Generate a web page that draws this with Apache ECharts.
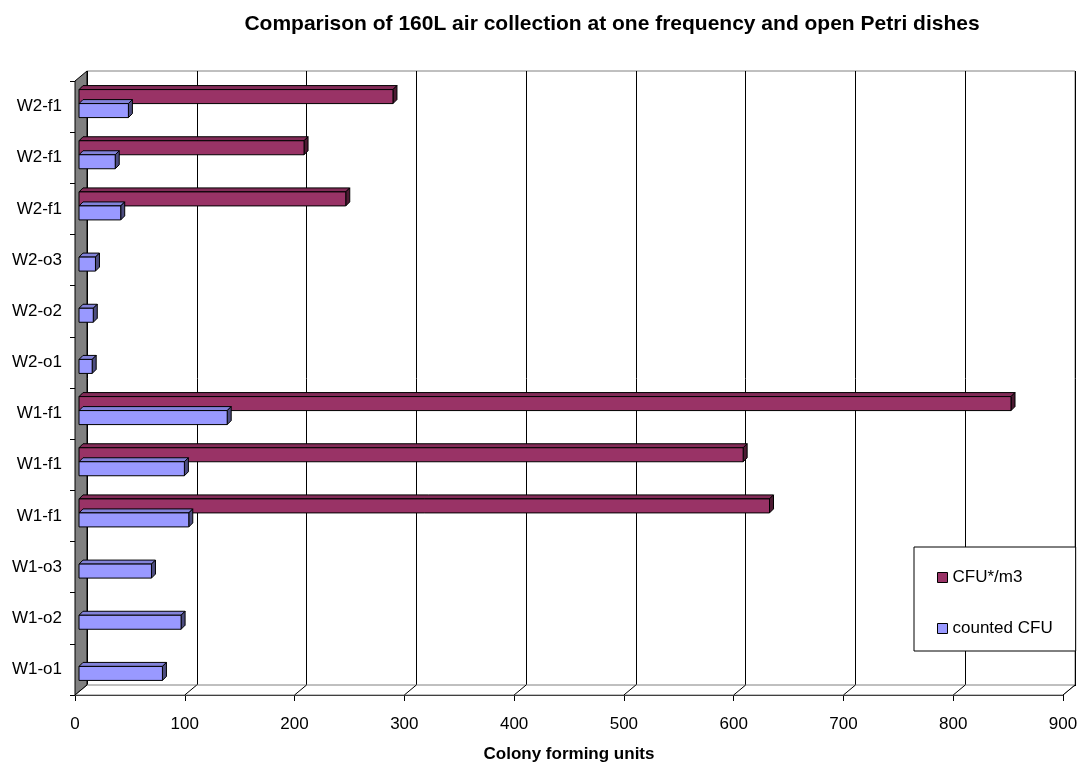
<!DOCTYPE html>
<html>
<head>
<meta charset="utf-8">
<script src="https://cdn.jsdelivr.net/npm/echarts@6/dist/echarts.min.js"></script>
<style>
html, body { margin: 0; padding: 0; background: #fff; }
#main { width: 1077px; height: 762px; }
</style>
</head>
<body>
<div id="main"></div>
<script>
// categories from bottom to top
var categories = ['W1-o1', 'W1-o2', 'W1-o3', 'W1-f1', 'W1-f1', 'W1-f1', 'W2-o1', 'W2-o2', 'W2-o3', 'W2-f1', 'W2-f1', 'W2-f1'];
var countedCFU = [76, 93, 66, 100, 96, 135, 12, 13, 15, 38, 33, 45];
var cfuPerM3 = [null, null, null, 629, 605, 849, null, null, null, 243, 205, 286];
var xTicks = [0, 100, 200, 300, 400, 500, 600, 700, 800, 900];

var FONT = 'Liberation Sans, Arial, sans-serif';
var DX = 12, DY = -10;   // depth of the back wall
var BX = 4, BY = -4;     // depth of each bar

function shade(c, k) {
    var r = parseInt(c.substr(1, 2), 16), g = parseInt(c.substr(3, 2), 16), b = parseInt(c.substr(5, 2), 16);
    return 'rgb(' + Math.round(r * k) + ',' + Math.round(g * k) + ',' + Math.round(b * k) + ')';
}

function barItem(color, upper) {
    return function (params, api) {
        var v = api.value(0);
        if (v == null || isNaN(v)) return;
        var cat = api.value(1);
        var p0 = api.coord([0, cat]);
        var p1 = api.coord([v, cat]);
        var h = 14;
        var yc = p0[1] - 3;
        var y0 = upper ? yc - h : yc;
        var x0 = p0[0] + BX, x1 = p1[0] + BX;
        var st = { stroke: '#000', lineWidth: 1 };
        return {
            type: 'group',
            children: [
                { type: 'polygon', shape: { points: [[x0, y0], [x0 + BX, y0 + BY], [x1 + BX, y0 + BY], [x1, y0]] },
                  style: Object.assign({ fill: shade(color, 0.85) }, st) },
                { type: 'polygon', shape: { points: [[x1, y0], [x1 + BX, y0 + BY], [x1 + BX, y0 + h + BY], [x1, y0 + h]] },
                  style: Object.assign({ fill: shade(color, 0.5) }, st) },
                { type: 'rect', shape: { x: x0, y: y0, width: x1 - x0, height: h },
                  style: Object.assign({ fill: color }, st) }
            ]
        };
    };
}

// side wall + floor, drawn from the front grid's box and x scale
function wallItem(params, api) {
    var cs = params.coordSys;
    var L = cs.x, T = cs.y, B = cs.y + cs.height, R = cs.x + cs.width;
    var children = [
        { type: 'polygon', shape: { points: [[L, B], [L + DX, B + DY], [L + DX, T + DY], [L, T]] },
          style: { fill: '#808080', stroke: '#000', lineWidth: 1 } },
        { type: 'polygon', shape: { points: [[L, B], [L + DX, B + DY], [R + DX, B + DY], [R, B]] },
          style: { fill: '#fff', stroke: '#808080', lineWidth: 1 } }
    ];
    xTicks.forEach(function (t) {
        var x = api.coord([t, 0])[0];
        children.push({ type: 'line', shape: { x1: x, y1: B, x2: x + DX, y2: B + DY },
            style: { stroke: '#000', lineWidth: 1 } });
    });
    return { type: 'group', children: children };
}

var chart = echarts.init(document.getElementById('main'));
var option = {
    animation: false,
    backgroundColor: '#fff',
    title: {
        text: 'Comparison of 160L air collection at one frequency and open Petri dishes',
        left: 607, textAlign: 'center', top: 9,
        textStyle: { fontFamily: FONT, fontSize: 21, fontWeight: 'bold', color: '#000' }
    },
    legend: {
        orient: 'vertical',
        left: 914, top: 547,
        padding: [22, 23, 14, 23],
        itemGap: 34,
        itemWidth: 10, itemHeight: 10,
        icon: 'rect',
        borderColor: '#000', borderWidth: 1,
        backgroundColor: '#fff',
        itemStyle: { borderColor: '#000', borderWidth: 1 },
        textStyle: { fontFamily: FONT, fontSize: 17, color: '#000' },
        data: ['CFU*/m3', 'counted CFU']
    },
    grid: [
        { left: 75, right: 14, top: 81, bottom: 67, outerBoundsMode: 'none', containLabel: false },
        { left: 87, right: 2, top: 71, bottom: 76, outerBoundsMode: 'none', containLabel: false,
          show: true, borderColor: '#808080', borderWidth: 1, backgroundColor: '#fff' }
    ],
    xAxis: [
        {
            gridIndex: 0, type: 'value', min: 0, max: 900, interval: 100,
            axisLine: { show: true, lineStyle: { color: '#000' } },
            axisTick: { show: true, length: 6, lineStyle: { color: '#000' } },
            splitLine: { show: false },
            axisLabel: { fontFamily: FONT, fontSize: 17, color: '#000', margin: 21 },
            name: 'Colony forming units', nameLocation: 'middle', nameGap: 51,
            nameTextStyle: { fontFamily: FONT, fontSize: 17, fontWeight: 'bold', color: '#000' }
        },
        {
            gridIndex: 1, type: 'value', min: 0, max: 900, interval: 100,
            axisLine: { show: false }, axisTick: { show: false }, axisLabel: { show: false },
            splitLine: { show: true, lineStyle: { color: '#000', width: 1 } }
        }
    ],
    yAxis: [
        {
            gridIndex: 0, type: 'category', data: categories,
            axisLine: { show: true, lineStyle: { color: '#000' } },
            axisTick: { show: true, length: 5, lineStyle: { color: '#000' } },
            axisLabel: { fontFamily: FONT, fontSize: 17, color: '#000', margin: 13 }
        },
        {
            gridIndex: 1, type: 'category', data: categories, show: false
        }
    ],
    series: [
        {
            name: 'wall', type: 'custom', xAxisIndex: 0, yAxisIndex: 0, silent: true, z: 1,
            renderItem: wallItem, data: [[0, 0]]
        },
        {
            name: 'CFU*/m3', type: 'custom', xAxisIndex: 0, yAxisIndex: 0, z: 3,
            itemStyle: { color: '#993366' },
            renderItem: barItem('#993366', true),
            encode: { x: 0, y: 1 },
            data: cfuPerM3.map(function (v, i) { return [v, i]; })
        },
        {
            name: 'counted CFU', type: 'custom', xAxisIndex: 0, yAxisIndex: 0, z: 3,
            itemStyle: { color: '#9999ff' },
            renderItem: barItem('#9999ff', false),
            encode: { x: 0, y: 1 },
            data: countedCFU.map(function (v, i) { return [v, i]; })
        }
    ]
};
chart.setOption(option);
window.onresize = function () { chart.resize(); };
</script>
</body>
</html>
